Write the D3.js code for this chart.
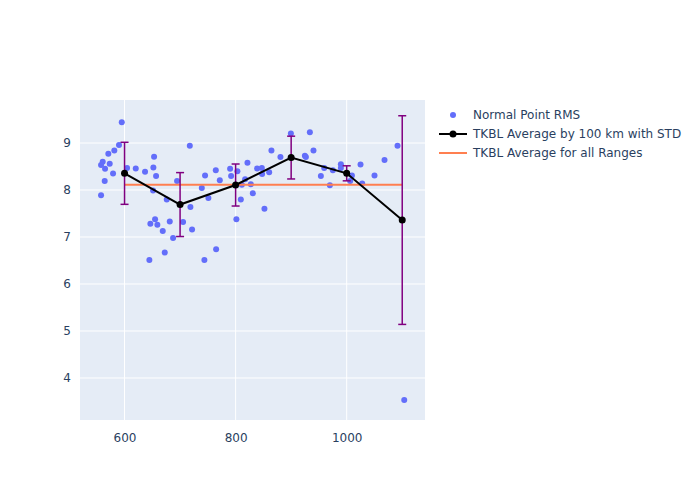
<!DOCTYPE html>
<html><head><meta charset="utf-8">
<script src="https://cdn.jsdelivr.net/npm/d3@7"></script>
<style>body{margin:0;background:#fff;} svg{font-family:"DejaVu Sans",sans-serif;}</style>
</head><body>
<svg id="c" width="700" height="500"></svg>
<script>
const pointX = [595,590,581.6,570.8,560.7,557.7,564.9,573.3,579.3,564.3,557.7,604.5,620.2,636.9,653.2,651.9,656.8,651.4,694.6,676,718.6,717.5,655,646.5,659.1,668.8,681.4,705.4,721.6,687.4,672.4,644.7,899.5,933.7,864.5,880.7,924.7,926.5,821.3,745,764.3,771.5,790.1,791.9,803.2,838.7,847.2,847.7,860.4,817.1,827.4,811.2,739.1,751,809.4,831,851.9,801.4,764.9,743.8,940.2,959.5,953.5,975.1,969.7,989.5,989.5,1009.4,1006.3,1024.9,1027.9,1050.1,1068.1,1091.5,1103.6];
const pointY = [9.44,8.96,8.84,8.77,8.60,8.53,8.45,8.56,8.35,8.19,7.89,8.47,8.46,8.39,8.71,8.48,8.30,7.99,8.19,7.80,7.64,8.94,7.38,7.28,7.26,7.13,7.33,7.32,7.16,6.98,6.67,6.51,9.20,9.23,8.84,8.70,8.73,8.70,8.58,8.31,8.42,8.21,8.45,8.30,8.40,8.46,8.47,8.34,8.38,8.23,8.12,8.11,8.04,7.83,7.80,7.93,7.60,7.38,6.74,6.51,8.84,8.47,8.30,8.42,8.10,8.55,8.47,8.31,8.19,8.54,8.14,8.31,8.64,8.94,3.53];
const avgX = [600,700,800,900,1000,1100];
const avgY = [8.355,7.69,8.106,8.69,8.355,7.36];
const avgStd = [0.66,0.68,0.447,0.455,0.16,2.22];
const overallAvg = 8.113;
const overallRange = [600,1100];
const xTicks = [600,800,1000];
const yTicks = [4,5,6,7,8,9];
const legendLabels = ["Normal Point RMS","TKBL Average by 100 km with STD","TKBL Average for all Ranges"];

const svg = d3.select("#c");
const L=80,R=425,T=100,B=420;
const x = d3.scaleLinear().domain([519.8,1141]).range([L,R]);
const y = d3.scaleLinear().domain([3.106,9.915]).range([B,T]);

svg.append("rect").attr("x",L).attr("y",T).attr("width",R-L).attr("height",B-T).attr("fill","#E5ECF6");
const g = svg.append("g");
g.selectAll(".gx").data(xTicks).join("line").attr("x1",d=>x(d)).attr("x2",d=>x(d)).attr("y1",T).attr("y2",B).attr("stroke","#fff").attr("stroke-width",1);
g.selectAll(".gy").data(yTicks).join("line").attr("y1",d=>y(d)).attr("y2",d=>y(d)).attr("x1",L).attr("x2",R).attr("stroke","#fff").attr("stroke-width",1);

const fmt = d3.format("d");
const xAxis = svg.append("g").attr("transform",`translate(0,${B})`).call(d3.axisBottom(x).tickValues(xTicks).tickFormat(fmt).tickSize(0).tickPadding(13));
const yAxis = svg.append("g").attr("transform",`translate(${L},0)`).call(d3.axisLeft(y).tickValues(yTicks).tickFormat(fmt).tickSize(0).tickPadding(9));
[xAxis,yAxis].forEach(a=>{a.select(".domain").remove();a.selectAll("text").attr("fill","#2a3f5f").attr("font-size",12).attr("font-family","'DejaVu Sans',sans-serif");});

const pts = pointX.map((v,i)=>({x:v,y:pointY[i]}));
svg.append("g").selectAll("circle").data(pts).join("circle").attr("cx",d=>x(d.x)).attr("cy",d=>y(d.y)).attr("r",3).attr("fill","#636efa");

svg.append("line").attr("x1",x(overallRange[0])).attr("x2",x(overallRange[1])).attr("y1",y(overallAvg)).attr("y2",y(overallAvg)).attr("stroke","#FF7F50").attr("stroke-width",2);

const avg = avgX.map((v,i)=>({x:v,y:avgY[i],s:avgStd[i]}));
const eb = svg.append("g").attr("stroke","#800080").attr("stroke-width",1.5);
avg.forEach(d=>{
  eb.append("line").attr("x1",x(d.x)).attr("x2",x(d.x)).attr("y1",y(d.y-d.s)).attr("y2",y(d.y+d.s));
  eb.append("line").attr("x1",x(d.x)-4).attr("x2",x(d.x)+4).attr("y1",y(d.y-d.s)).attr("y2",y(d.y-d.s));
  eb.append("line").attr("x1",x(d.x)-4).attr("x2",x(d.x)+4).attr("y1",y(d.y+d.s)).attr("y2",y(d.y+d.s));
});
svg.append("path").datum(avg).attr("d",d3.line().x(d=>x(d.x)).y(d=>y(d.y))).attr("fill","none").attr("stroke","#000").attr("stroke-width",2);
svg.append("g").selectAll("circle").data(avg).join("circle").attr("cx",d=>x(d.x)).attr("cy",d=>y(d.y)).attr("r",3.5).attr("fill","#000");

const lg = svg.append("g").attr("font-size",12).attr("fill","#2a3f5f");
const ly = [115,134,153];
lg.append("circle").attr("cx",453).attr("cy",ly[0]).attr("r",3).attr("fill","#636efa");
lg.append("line").attr("x1",439).attr("x2",467).attr("y1",ly[1]).attr("y2",ly[1]).attr("stroke","#000").attr("stroke-width",2);
lg.append("circle").attr("cx",453).attr("cy",ly[1]).attr("r",3.5).attr("fill","#000");
lg.append("line").attr("x1",439).attr("x2",467).attr("y1",ly[2]).attr("y2",ly[2]).attr("stroke","#FF7F50").attr("stroke-width",2);
legendLabels.forEach((t,i)=>lg.append("text").attr("x",473).attr("y",ly[i]).attr("dy","0.35em").attr("fill","#2a3f5f").text(t));
</script>
</body></html>
